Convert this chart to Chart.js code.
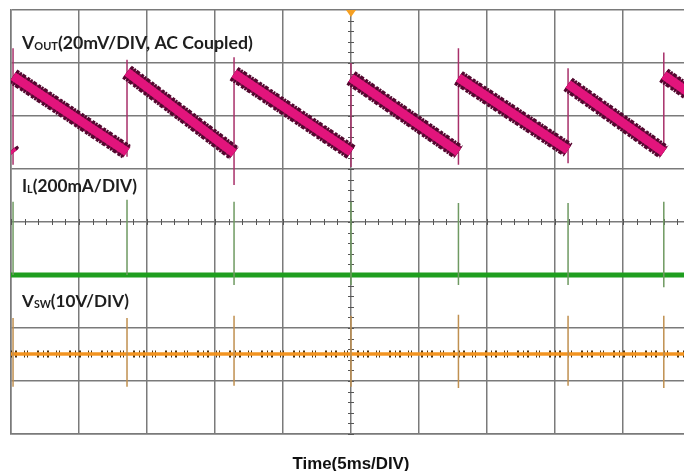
<!DOCTYPE html>
<html><head><meta charset="utf-8">
<script src="https://cdn.jsdelivr.net/npm/chart.js@4"></script>
<style>
html,body{margin:0;padding:0;background:#fff;overflow:hidden;width:684px;height:471px}
#wrap{width:684px;height:471px;overflow:hidden;position:relative}
canvas{position:absolute;left:0;top:0}
</style></head>
<body><div id="wrap"><canvas id="c" width="700" height="471"></canvas></div>
<script>
// Time axis in ms (5 ms/div, 10 div), vertical axis in screen divisions (8 div)
const timeRangeMs = [0, 50];
const divRange = [-4, 4];
const jumpTimesMs = [0.15, 8.53, 16.4, 25.0, 32.9, 40.96, 48.0];
// V_OUT (div) just after / just before each jump
const voutPeakDiv   = [2.75, 2.83, 2.80, 2.72, 2.72, 2.60, 2.77];
const voutValleyDiv = [1.30, 1.32, 1.30, 1.32, 1.32, 1.36, 1.32];
const voutStartDiv = 1.35;   // at t = 0
const voutEndDiv = 2.41;     // at t = 50 ms
const voutSpikeTop    = [3.28, 3.06, 3.11, 3.00, 3.28, 2.90, 3.20];
const voutSpikeBottom = [1.08, 1.23, 0.70, 1.04, 1.08, 1.11, 1.50];
// I_L
const ilLevelDiv = -1.0;
const ilSpikeTop    = [0.38, 0.42, 0.38, 0.38, 0.36, 0.36, 0.38];
const ilSpikeBottom = [-1.0, -1.0, -1.19, -1.19, -1.19, -1.19, -1.23];
// V_SW
const vswLevelDiv = -2.49;
const vswSpikeTop    = [-1.81, -1.81, -1.77, -1.77, -1.75, -1.77, -1.77];
const vswSpikeBottom = [-3.11, -3.11, -3.09, -3.11, -3.13, -3.09, -3.13];

const labelVout = ['V', 'OUT', '(20mV/DIV, AC Coupled)'];
const labelIL = ['I', 'L', '(200mA/DIV)'];
const labelVsw = ['V', 'SW', '(10V/DIV)'];
const labelTime = 'Time(5ms/DIV)';

function rampData() {
  const d = [{x: timeRangeMs[0], y: voutStartDiv}];
  jumpTimesMs.forEach((t, i) => {
    d.push({x: t, y: voutValleyDiv[i]});
    d.push({x: t, y: null});
    d.push({x: t, y: voutPeakDiv[i]});
  });
  d.push({x: timeRangeMs[1], y: voutEndDiv});
  return d;
}
function spikeData(tops, bottoms) {
  const d = [];
  jumpTimesMs.forEach((t, i) => {
    d.push({x: t, y: bottoms[i]});
    d.push({x: t, y: tops[i]});
    d.push({x: t, y: null});
  });
  return d;
}
function flat(v) { return [{x: timeRangeMs[0], y: v}, {x: timeRangeMs[1], y: v}]; }

const base = {pointRadius: 0, fill: false, tension: 0, borderCapStyle: 'butt', spanGaps: false};

const overlay = {
  id: 'overlay',
  beforeDatasetsDraw(chart) {
    const {ctx, scales: {x, y}} = chart;
    const cx = x.getPixelForValue(25), cy = y.getPixelForValue(0);
    ctx.save();
    ctx.strokeStyle = '#555';
    ctx.lineWidth = 1;
    ctx.beginPath();
    for (let v = divRange[0]; v <= divRange[1] + 1e-6; v += 0.2) {
      const py = Math.round(y.getPixelForValue(v)) + 0.5;
      ctx.moveTo(cx - 3, py); ctx.lineTo(cx + 3, py);
    }
    for (let t = timeRangeMs[0]; t <= timeRangeMs[1] + 1e-6; t += 1) {
      const px = Math.round(x.getPixelForValue(t)) + 0.5;
      ctx.moveTo(px, cy - 3); ctx.lineTo(px, cy + 3);
    }
    ctx.stroke();
    ctx.restore();
  },
  afterDatasetsDraw(chart) {
    const {ctx, scales: {x, y}} = chart;
    ctx.save();
    const tx = x.getPixelForValue(25), ty = chart.chartArea.top;
    ctx.fillStyle = '#f5a023';
    ctx.beginPath();
    ctx.moveTo(tx - 5, ty); ctx.lineTo(tx + 5, ty); ctx.lineTo(tx, ty + 7); ctx.closePath();
    ctx.fill();

    function rich(parts, left, baseline, target) {
      const fam = 'Lato, "Open Sans", sans-serif';
      const scales = [1, 0.62, 1], dys = [0, 1, 0];
      const measure = (sz) => {
        let w = 0;
        parts.forEach((p, i) => { ctx.font = 'bold ' + (sz * scales[i]) + 'px ' + fam; w += ctx.measureText(p).width; });
        return w;
      };
      const sz = 16 * target / measure(16);
      let xx = left;
      ctx.fillStyle = '#1e1e1e';
      ctx.textBaseline = 'alphabetic';
      ctx.textAlign = 'left';
      parts.forEach((p, i) => {
        ctx.font = 'bold ' + (sz * scales[i]) + 'px ' + fam;
        ctx.fillText(p, xx, baseline + dys[i]);
        xx += ctx.measureText(p).width;
      });
    }
    rich(labelVout, 22, 49, 231);
    rich(labelIL, 22, 192, 115);
    rich(labelVsw, 22, 307, 107);

    ctx.font = 'bold 17px "Liberation Sans", Arial, sans-serif';
    const w = ctx.measureText(labelTime).width;
    const sz = 17 * 117 / w;
    ctx.font = 'bold ' + sz + 'px "Liberation Sans", Arial, sans-serif';
    ctx.fillStyle = '#111';
    ctx.textAlign = 'center';
    ctx.textBaseline = 'alphabetic';
    ctx.fillText(labelTime, 351, 469);
    ctx.restore();
  }
};

// Lower "order" is drawn on top
new Chart(document.getElementById('c'), {
  type: 'line',
  data: {
    datasets: [
      {...base, order: 1, data: rampData(), borderColor: '#e2147c', borderWidth: 9},
      {...base, order: 2, data: rampData(), borderColor: '#52082f', borderWidth: 16, borderDash: [3, 1, 2, 1, 4, 2]},
      {...base, order: 3, data: rampData(), borderColor: '#8a1050', borderWidth: 13},
      {...base, order: 4, data: spikeData(voutSpikeTop, voutSpikeBottom), borderColor: '#a8306a', borderWidth: 1.5},
      {...base, order: 5, data: spikeData(ilSpikeTop, ilSpikeBottom), borderColor: '#6f9a62', borderWidth: 1.5},
      {...base, order: 6, data: flat(ilLevelDiv), borderColor: '#1f9e1f', borderWidth: 5},
      {...base, order: 7, data: spikeData(vswSpikeTop, vswSpikeBottom), borderColor: '#c09050', borderWidth: 1.5},
      {...base, order: 8, data: flat(vswLevelDiv), borderColor: '#f39420', borderWidth: 3.5},
      {...base, order: 9, data: flat(vswLevelDiv), borderColor: '#4a300c', borderWidth: 7, borderDash: [1, 3, 2, 7, 1, 2, 1, 9, 2, 4]}
    ]
  },
  options: {
    responsive: false,
    animation: false,
    layout: {padding: {left: 11, top: 10, right: 9, bottom: 37}},
    plugins: {legend: {display: false}, tooltip: {enabled: false}},
    scales: {
      x: {type: 'linear', min: timeRangeMs[0], max: timeRangeMs[1],
          ticks: {display: false, stepSize: 5},
          grid: {color: '#7a7a7a', lineWidth: 1.5, drawTicks: false},
          border: {display: true, color: '#7a7a7a', width: 1.5}},
      y: {type: 'linear', min: divRange[0], max: divRange[1],
          ticks: {display: false, stepSize: 1},
          grid: {color: '#7a7a7a', lineWidth: 1.5, drawTicks: false},
          border: {display: true, color: '#7a7a7a', width: 1.5}}
    }
  },
  plugins: [overlay]
});
</script>
</body></html>
